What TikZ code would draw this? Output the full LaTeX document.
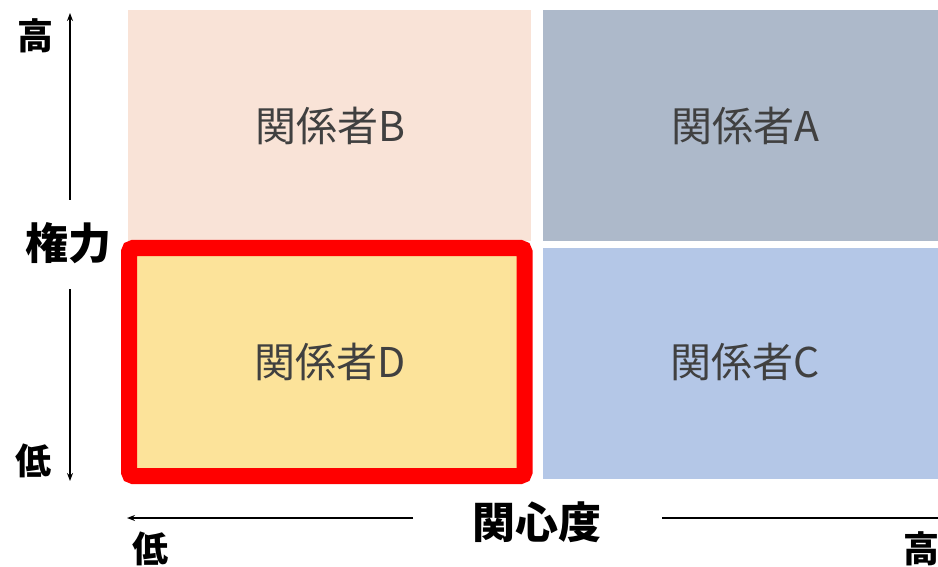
\documentclass[tikz,border=0pt]{standalone}
\usepackage{fontspec}
\newfontfamily\cjk{Noto Sans CJK JP}
\usetikzlibrary{arrows.meta}
\definecolor{peach}{HTML}{F9E3D7}
\definecolor{slate}{HTML}{ADB9CA}
\definecolor{lblue}{HTML}{B4C7E7}
\definecolor{lyellow}{HTML}{FCE39A}
\definecolor{txtgray}{HTML}{404040}
\tikzset{
  quad/.style={draw=none},
  qlabel/.style={font=\cjk\fontsize{41}{43}\selectfont, text=txtgray, inner sep=0pt},
  axislabel/.style={font=\cjk\bfseries\fontsize{36}{38}\selectfont, text=black, inner sep=0pt},
  axistitle/.style={font=\cjk\bfseries\fontsize{43}{45}\selectfont, text=black, inner sep=0pt},
  axis/.style={line width=1.5pt, draw=black},
  axisarrow/.style={axis, -{Stealth[length=8pt,width=6pt]}}
}
\begin{document}
\begin{tikzpicture}[x=1pt,y=-1pt]
\useasboundingbox (0,0) rectangle (938,567);
\clip (0,0) rectangle (938,567);
% quadrants
\fill[peach] (128,10) rectangle (531,241);
\fill[slate] (543,10) rectangle (938,241);
\fill[lblue] (543,248) rectangle (938,479);
\draw[fill=lyellow, draw=red, line width=16pt, rounded corners=4pt] (129,248) rectangle (524.5,476);
\node[qlabel] (b) at (330,126) {関係者B};
\node[qlabel] (a) at (745,126) {関係者A};
\node[qlabel] (d) at (330,362) {関係者D};
\node[qlabel] (c) at (745,362) {関係者C};
% vertical axis
\node[axistitle] (power) at (68,243) {権力};
\node[axislabel] (hi) at (35,36) {高};
\node[axislabel] (lo) at (34,461) {低};
\coordinate (vtop) at (70,13);
\coordinate (vbot) at (70,481);
\coordinate (vt1) at (70,200);
\coordinate (vb1) at (70,289);
\draw[axisarrow] (vt1) -- (vtop);
\draw[axisarrow] (vb1) -- (vbot);
% horizontal axis
\node[axistitle] (interest) at (537,522) {関心度};
\node[axislabel] (hlo) at (150,549) {低};
\node[axislabel] (hhi) at (921,549) {高};
\coordinate (hl) at (127,518);
\coordinate (hl1) at (413,518);
\coordinate (hr1) at (662,518);
\coordinate (hr) at (960,518);
\draw[axisarrow] (hl1) -- (hl);
\draw[axisarrow] (hr1) -- (hr);
\end{tikzpicture}
\end{document}
